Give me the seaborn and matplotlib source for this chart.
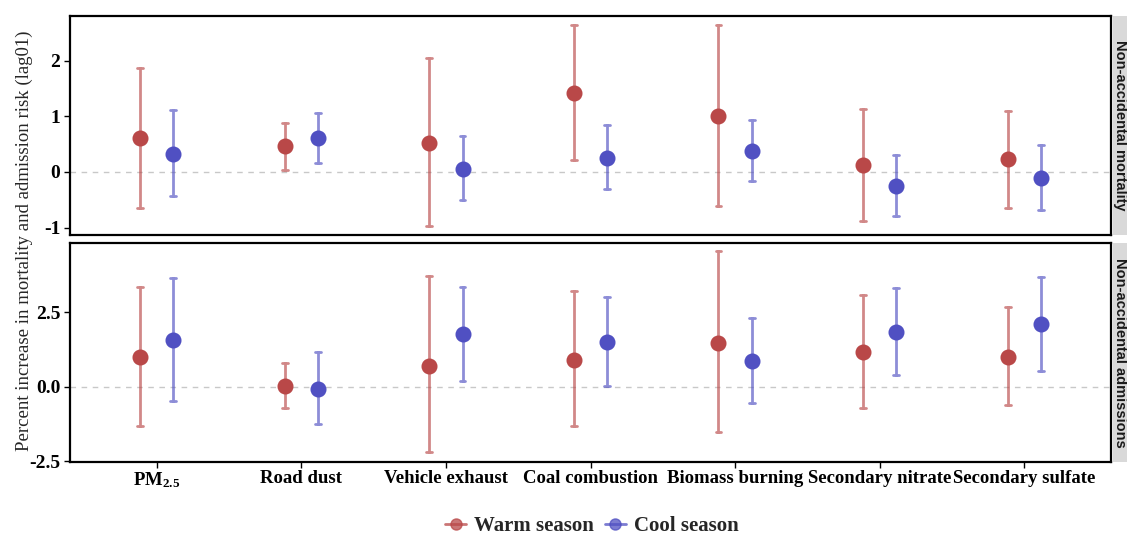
import numpy as np
import pandas as pd
import matplotlib
matplotlib.use("Agg")
import matplotlib.pyplot as plt
from matplotlib.lines import Line2D
import seaborn as sns

sns.set_style("white")
plt.rcParams["font.family"] = ["Liberation Serif", "DejaVu Serif"]
plt.rcParams["mathtext.fontset"] = "custom"
plt.rcParams["mathtext.bf"] = "Liberation Serif:bold"
plt.rcParams["mathtext.rm"] = "Liberation Serif"

# sources and season labels
sources = ["PM2.5", "Road dust", "Vehicle exhaust", "Coal combustion",
           "Biomass burning", "Secondary nitrate", "Secondary sulfate"]
source_labels = [r"$\mathbf{PM_{2.5}}$", "Road dust", "Vehicle exhaust", "Coal combustion",
                 "Biomass burning", "Secondary nitrate", "Secondary sulfate"]
seasons = ["Warm season", "Cool season"]
outcomes = ["Non-accidental mortality", "Non-accidental admissions"]

# non-accidental mortality (percent increase, lag01)
mort_warm_est = [0.61, 0.47, 0.52, 1.42, 1.00, 0.13, 0.23]
mort_warm_lo = [-0.65, 0.04, -0.98, 0.22, -0.62, -0.88, -0.64]
mort_warm_hi = [1.88, 0.89, 2.05, 2.64, 2.65, 1.14, 1.10]
mort_cool_est = [0.33, 0.62, 0.06, 0.26, 0.38, -0.25, -0.11]
mort_cool_lo = [-0.44, 0.16, -0.51, -0.31, -0.16, -0.80, -0.69]
mort_cool_hi = [1.12, 1.07, 0.64, 0.84, 0.93, 0.31, 0.48]

# non-accidental admissions
adm_warm_est = [0.98, 0.04, 0.69, 0.91, 1.46, 1.16, 1.00]
adm_warm_lo = [-1.33, -0.71, -2.20, -1.31, -1.51, -0.70, -0.62]
adm_warm_hi = [3.35, 0.81, 3.69, 3.20, 4.53, 3.07, 2.68]
adm_cool_est = [1.55, -0.07, 1.75, 1.49, 0.86, 1.84, 2.09]
adm_cool_lo = [-0.49, -1.25, 0.19, 0.01, -0.53, 0.40, 0.53]
adm_cool_hi = [3.63, 1.16, 3.34, 3.01, 2.29, 3.32, 3.67]

# long table: lower / estimate / upper as three rows -> median + 100% interval
rows = []
series = {
    (outcomes[0], seasons[0]): (mort_warm_lo, mort_warm_est, mort_warm_hi),
    (outcomes[0], seasons[1]): (mort_cool_lo, mort_cool_est, mort_cool_hi),
    (outcomes[1], seasons[0]): (adm_warm_lo, adm_warm_est, adm_warm_hi),
    (outcomes[1], seasons[1]): (adm_cool_lo, adm_cool_est, adm_cool_hi),
}
for (outcome, season), arrs in series.items():
    for vals in arrs:
        for src, v in zip(sources, vals):
            rows.append({"outcome": outcome, "season": season, "source": src, "value": v})
df = pd.DataFrame(rows)

palette = {"Warm season": "#B94848", "Cool season": "#5050C2"}

fig = plt.figure(figsize=(11.27, 5.37), dpi=100)
W, H = 1127, 537
ax_top = fig.add_axes([70 / W, 1 - 235 / H, 1041 / W, 219 / H])
ax_bot = fig.add_axes([70 / W, 1 - 462 / H, 1041 / W, 219 / H])

ylims = [(-1.135, 2.81), (-2.52, 4.81)]
yticks = [[-1, 0, 1, 2], [-2.5, 0, 2.5]]
yticklabels = [["-1", "0", "1", "2"], ["-2.5", "0.0", "2.5"]]

for i, (ax, outcome) in enumerate(zip([ax_top, ax_bot], outcomes)):
    ax.axhline(0, color="#C8C8C8", lw=1, ls=(0, (4, 4)), zorder=0)
    sns.pointplot(
        data=df[df["outcome"] == outcome], x="source", y="value", hue="season",
        order=sources, hue_order=seasons, palette=palette,
        estimator="median", errorbar=("pi", 100), dodge=0.23,
        linestyle="none", marker="o", markersize=9.5, capsize=0.04,
        err_kws={"linewidth": 2, "alpha": 0.65}, legend=False, ax=ax,
    )
    ax.set_xlim(-0.6, 6.6)
    ax.set_ylim(*ylims[i])
    ax.set_yticks(yticks[i])
    ax.set_yticklabels(yticklabels[i], fontsize=14, fontweight="bold")
    ax.set_xlabel("")
    ax.set_ylabel("")
    for sp in ax.spines.values():
        sp.set_visible(True)
        sp.set_color("black")
        sp.set_linewidth(1.6)
    ax.tick_params(axis="y", which="both", left=True, length=4, width=1, pad=3, colors="black")
    # facet strip on the right
    y0 = ax.get_position().y0
    h = ax.get_position().height
    fig.patches.append(plt.Rectangle((1113 / W, y0), 0.05, h, transform=fig.transFigure,
                                     facecolor="#D9D9D9", edgecolor="none"))
    fig.text(1120 / W, y0 + h / 2, outcome, rotation=-90, ha="center", va="center",
             fontsize=10.5, fontweight="bold", family=["Liberation Sans", "DejaVu Sans"],
             color="#1A1A1A")

ax_top.set_xticks(range(len(sources)))
ax_top.tick_params(axis="x", bottom=False, labelbottom=False)
ax_bot.set_xticks(range(len(sources)))
ax_bot.set_xticklabels(source_labels, fontsize=13.5, fontweight="bold")
ax_bot.tick_params(axis="x", bottom=True, length=4, width=1, pad=2, colors="black")

fig.text(24 / W, 1 - 241 / H, "Percent increase in mortality and admission risk (lag01)",
         rotation=90, ha="center", va="center", fontsize=13.5)

handles = [Line2D([0], [0], color=palette[s], marker="o", markersize=8, lw=2, alpha=0.75)
           for s in seasons]
fig.legend(handles, seasons, loc="center", bbox_to_anchor=(592 / W, 1 - 526 / H), ncol=2,
           frameon=False, handlelength=1.0, handletextpad=0.4, columnspacing=0.5,
           prop={"family": "Liberation Serif", "weight": "bold", "size": 15})

fig.savefig("out.png", dpi=100)
